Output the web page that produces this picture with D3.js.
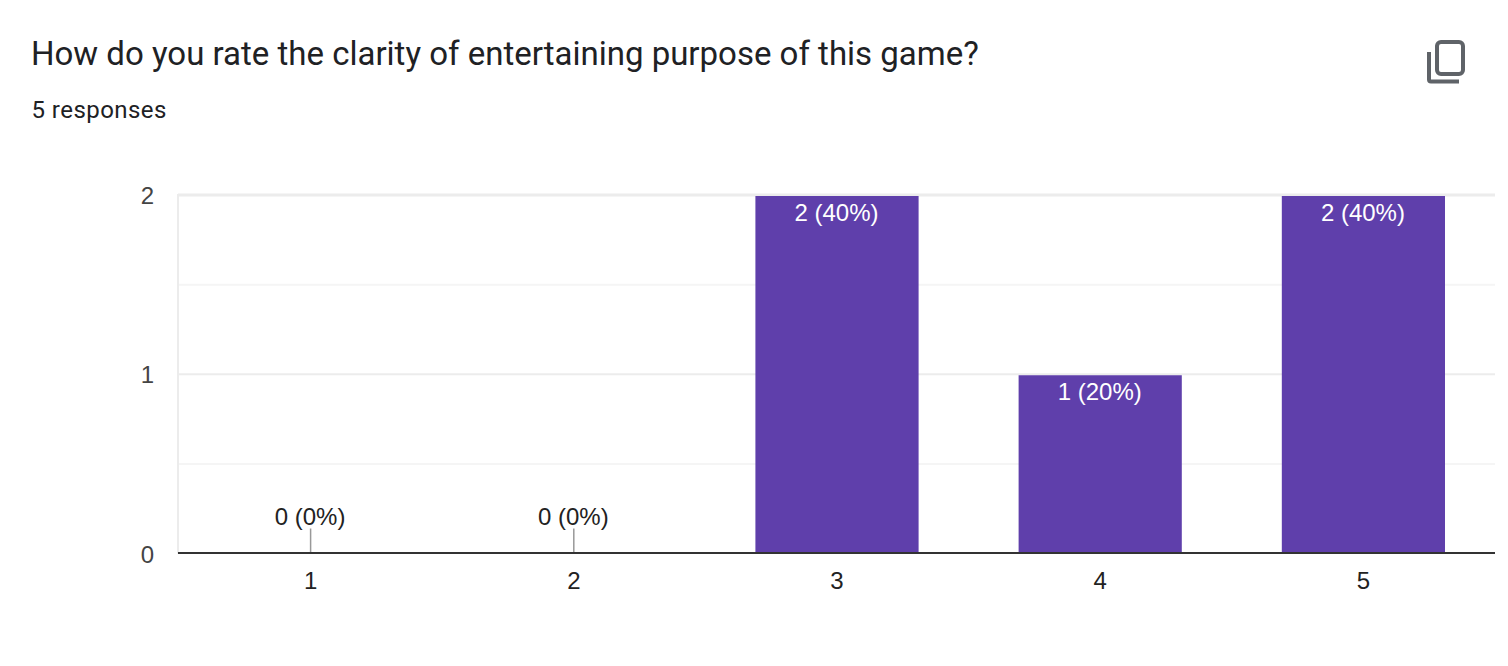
<!DOCTYPE html>
<html>
<head>
<meta charset="utf-8">
<script src="https://cdn.jsdelivr.net/npm/d3@7"></script>
<style>
  html, body { margin: 0; padding: 0; background: #fff; overflow: hidden; }
  svg { display: block; }
</style>
</head>
<body>
<svg id="chart"></svg>
<script>
const categories = ["1", "2", "3", "4", "5"];
const counts = [0, 0, 2, 1, 2];
const percents = [0, 0, 40, 20, 40];
const majorTicks = [0, 1, 2];
const minorTicks = [0.5, 1.5];
const titleText = "How do you rate the clarity of entertaining purpose of this game?";
const subtitleText = "5 responses";

const width = 1508;
const height = 666;
const margin = { top: 195, right: 13, bottom: 112.5, left: 178 };

const svg = d3.select("#chart")
    .attr("width", width)
    .attr("height", height);

// Heading
svg.append("text")
    .attr("x", 31)
    .attr("y", 65)
    .style("font-family", "Roboto, sans-serif")
    .style("font-size", "33px")
    .style("fill", "#202124")
    .text(titleText);

svg.append("text")
    .attr("x", 31.5)
    .attr("y", 118)
    .style("font-family", "Roboto, sans-serif")
    .style("font-size", "24px")
    .style("letter-spacing", "0.45px")
    .style("fill", "#202124")
    .text(subtitleText);

// Copy icon
const icon = svg.append("g").attr("fill", "none").attr("stroke", "#5f6368").attr("stroke-width", 4);
icon.append("rect").attr("x", 1437).attr("y", 42).attr("width", 26).attr("height", 32).attr("rx", 4);
icon.append("path").attr("d", "M1429 52V79.5a2 2 0 0 0 2 2H1459");

// Scales
const x = d3.scaleBand()
    .domain(categories)
    .range([margin.left + 1, width - margin.right])
    .paddingInner(0.38)
    .paddingOuter(0.19);

const y = d3.scaleLinear()
    .domain([0, 2])
    .range([height - margin.bottom, margin.top]);

// Grid
svg.append("g").selectAll("line")
    .data(minorTicks)
    .enter()
    .append("line")
    .attr("x1", margin.left)
    .attr("x2", width - margin.right)
    .attr("y1", d => y(d))
    .attr("y2", d => y(d))
    .attr("stroke", "#f5f5f5")
    .attr("stroke-width", 2);

svg.append("g").selectAll("line")
    .data(majorTicks.filter(d => d > 0))
    .enter()
    .append("line")
    .attr("x1", margin.left)
    .attr("x2", width - margin.right)
    .attr("y1", d => y(d))
    .attr("y2", d => y(d))
    .attr("stroke", "#ececec")
    .attr("stroke-width", d => d === 2 ? 3 : 2);

svg.append("line")
    .attr("x1", margin.left)
    .attr("x2", margin.left)
    .attr("y1", y(2) - 1)
    .attr("y2", y(0))
    .attr("stroke", "#ececec")
    .attr("stroke-width", 2);

// Y axis labels
const yAxis = d3.axisLeft(y).tickValues(majorTicks).tickFormat(d3.format("d")).tickSize(0).tickPadding(24);
const yG = svg.append("g")
    .attr("transform", `translate(${margin.left},1)`)
    .call(yAxis);
yG.select(".domain").remove();
yG.selectAll("text")
    .style("font-family", "'Liberation Sans', Arial, sans-serif")
    .style("font-size", "24px")
    .style("fill", "#444");

// Bars
svg.append("g").selectAll("rect")
    .data(categories.filter((c, i) => counts[i] > 0))
    .enter()
    .append("rect")
    .attr("x", d => x(d))
    .attr("width", x.bandwidth())
    .attr("y", d => y(counts[categories.indexOf(d)]) + 1)
    .attr("height", d => y(0) - y(counts[categories.indexOf(d)]) - 1)
    .attr("fill", "#5f3fab");

// Leader lines for the empty categories
svg.append("g").selectAll("line")
    .data(categories.filter((c, i) => counts[i] === 0))
    .enter()
    .append("line")
    .attr("x1", d => x(d) + x.bandwidth() / 2)
    .attr("x2", d => x(d) + x.bandwidth() / 2)
    .attr("y1", y(0) - 25)
    .attr("y2", y(0))
    .attr("stroke", "#999")
    .attr("stroke-width", 1.5);

// Baseline
svg.append("line")
    .attr("x1", margin.left)
    .attr("x2", width - margin.right)
    .attr("y1", y(0) - 0.5)
    .attr("y2", y(0) - 0.5)
    .attr("stroke", "#333")
    .attr("stroke-width", 2);

// X axis labels
const xAxis = d3.axisBottom(x).tickSize(0).tickPadding(18);
const xG = svg.append("g")
    .attr("transform", `translate(0,${y(0)})`)
    .call(xAxis);
xG.select(".domain").remove();
xG.selectAll("text")
    .style("font-family", "'Liberation Sans', Arial, sans-serif")
    .style("font-size", "24px")
    .style("fill", "#222");

// Value labels
svg.append("g").selectAll("text")
    .data(categories)
    .enter()
    .append("text")
    .attr("x", d => x(d) + x.bandwidth() / 2 - 0.5)
    .attr("y", (d, i) => counts[i] > 0 ? y(counts[i]) + 26 : y(0) - 29)
    .attr("text-anchor", "middle")
    .style("font-family", "'Liberation Sans', Arial, sans-serif")
    .style("font-size", "24px")
    .style("fill", (d, i) => counts[i] > 0 ? "#fff" : "#222")
    .text((d, i) => `${counts[i]} (${percents[i]}%)`);
</script>
</body>
</html>
